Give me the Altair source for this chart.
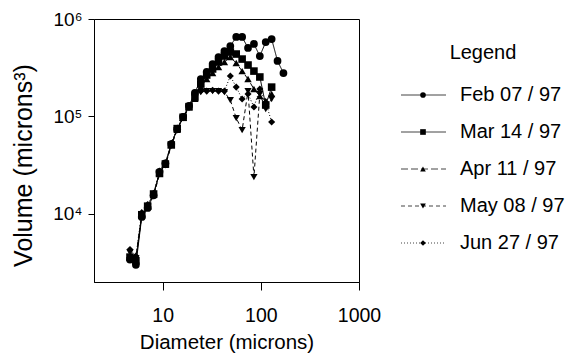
import altair as alt
import pandas as pd

series_names = ["Feb 07 / 97", "Mar 14 / 97", "Apr 11 / 97", "May 08 / 97", "Jun 27 / 97"]

diameter = [4.65, 5.34, 6.13, 7.04, 8.09, 9.29, 10.67, 12.25, 14.07, 16.16, 18.56,
            21.32, 24.48, 28.12, 32.29, 37.09, 42.59, 48.91, 56.18, 64.52, 74.09,
            85.09, 97.72, 112.2, 128.9, 148.0, 170.0]

feb = [3400, 3000, 9300, 11500, 15500, 27000, 33000, 52000, 74000, 99000, 128000,
       175000, 242000, 286000, 345000, 407000, 469000, 528000, 654000, 654000, 504000,
       554000, 417000, 580000, 623000, 371000, 279000]
mar = [3600, 3300, 9800, 12000, 16000, 26000, 32500, 51000, 75000, 98000, 126000,
       158000, 215000, 266000, 307000, 362000, 417000, 458000, 437000, 388000, 337000,
       292000, 254000, 131000, 200000]
apr = [3800, 3400, 10000, 12200, 15800, 26500, 32000, 52000, 73000, 97000, 124000,
       152000, 200000, 242000, 279000, 321000, 362000, 407000, 353000, 292000, 242000,
       191000, 162000, 144000, 170000]
may = [4000, 3500, 9600, 11800, 15200, 25500, 31500, 50000, 72000, 96000, 122000,
       160000, 178000, 182000, 182000, 182000, 178000, 147000, 96300, 72500, 182000,
       23900, 170000, 119000, 151000]
jun = [4300, 3700, 10300, 12500, 16300, 27500, 33500, 53000, 76000, 100000, 127000,
       165000, 182000, 182000, 186000, 182000, 182000, 260000, 200000, 151000, 170000,
       125000, 191000, 140000, 87600]

x_ticks = [10, 100, 1000]
y_ticks = [10000, 100000, 1000000]

rows = []
for name, vals in zip(series_names, [feb, mar, apr, may, jun]):
    for d, v in zip(diameter, vals):
        rows.append({"series": name, "diameter": d, "volume": v})
df = pd.DataFrame(rows)
leg_df = pd.DataFrame({"series": series_names})

FONT = "Liberation Sans"
shape_scale = alt.Scale(domain=series_names,
                        range=["circle", "square", "triangle-up", "triangle-down", "diamond"])
dash_scale = alt.Scale(domain=series_names,
                       range=[[1, 0], [1, 0], [7, 3], [4, 3], [1, 2]])
size_scale = alt.Scale(domain=series_names, range=[60, 50, 55, 55, 65])

x_enc = alt.X("diameter:Q",
              scale=alt.Scale(type="log", domain=[2, 1000], nice=False),
              axis=alt.Axis(values=x_ticks, format="d", title="Diameter (microns)",
                            grid=False, tickSize=8, labelPadding=16, titlePadding=8,
                            labelFontSize=19.5, titleFontSize=20.5, labelFont=FONT, titleFont=FONT,
                            titleFontWeight="normal", labelColor="black", titleColor="black",
                            domainColor="black", tickColor="black", labelFlush=False))
y_enc = alt.Y("volume:Q",
              scale=alt.Scale(type="log", domain=[2000, 1000000], nice=False),
              axis=alt.Axis(values=y_ticks,
                            labelExpr="datum.value >= 999999 ? '10⁶' : (datum.value >= 99999 ? '10⁵' : '10⁴')",
                            title="Volume (microns³)", grid=False, tickSize=6, labelPadding=6,
                            titlePadding=16, titleY=146, labelFontSize=19, titleFontSize=25,
                            labelFont=FONT, titleFont=FONT, titleFontWeight="normal",
                            labelColor="black", titleColor="black", domainColor="black",
                            tickColor="black", labelFlush=False))

base = alt.Chart(df).encode(x=x_enc, y=y_enc)

lines = base.mark_line(color="black", strokeWidth=1).encode(
    strokeDash=alt.StrokeDash("series:N", scale=dash_scale, legend=None),
    order="diameter:Q",
)
points = base.mark_point(filled=True, color="black", opacity=1).encode(
    shape=alt.Shape("series:N", scale=shape_scale, legend=None),
    size=alt.Size("series:N", scale=size_scale, legend=None),
)
data_layer = alt.layer(lines, points)

leg_y = alt.Y("series:N", sort=series_names,
              scale=alt.Scale(type="point", range=[76, 224], padding=0), axis=None)
leg_base = alt.Chart(leg_df).encode(y=leg_y)
leg_lines = leg_base.mark_rule(color="#444444", strokeWidth=1).encode(
    x=alt.value(307), x2=alt.value(352),
    strokeDash=alt.StrokeDash("series:N", scale=dash_scale, legend=None),
)
leg_points = leg_base.mark_point(filled=True, color="black", opacity=1, size=32).encode(
    x=alt.value(329),
    shape=alt.Shape("series:N", scale=shape_scale, legend=None),
)
leg_text = leg_base.mark_text(align="left", baseline="middle", fontSize=20, font=FONT,
                              color="black").encode(
    x=alt.value(366), text="series:N")
leg_title = alt.Chart(pd.DataFrame({"t": ["Legend"]})).mark_text(
    align="center", baseline="middle", fontSize=20, font=FONT, color="black").encode(
    x=alt.value(389), y=alt.value(34), text="t:N")
legend_layer = alt.layer(leg_lines, leg_points, leg_text, leg_title)

chart = alt.layer(data_layer, legend_layer).resolve_scale(y="independent").properties(
    width=265, height=263,
    padding={"left": 11, "top": 10, "right": 5, "bottom": 5},
).configure_view(stroke="black", strokeWidth=1)

chart.save("out.html", embed_options={"renderer": "svg", "actions": False})
